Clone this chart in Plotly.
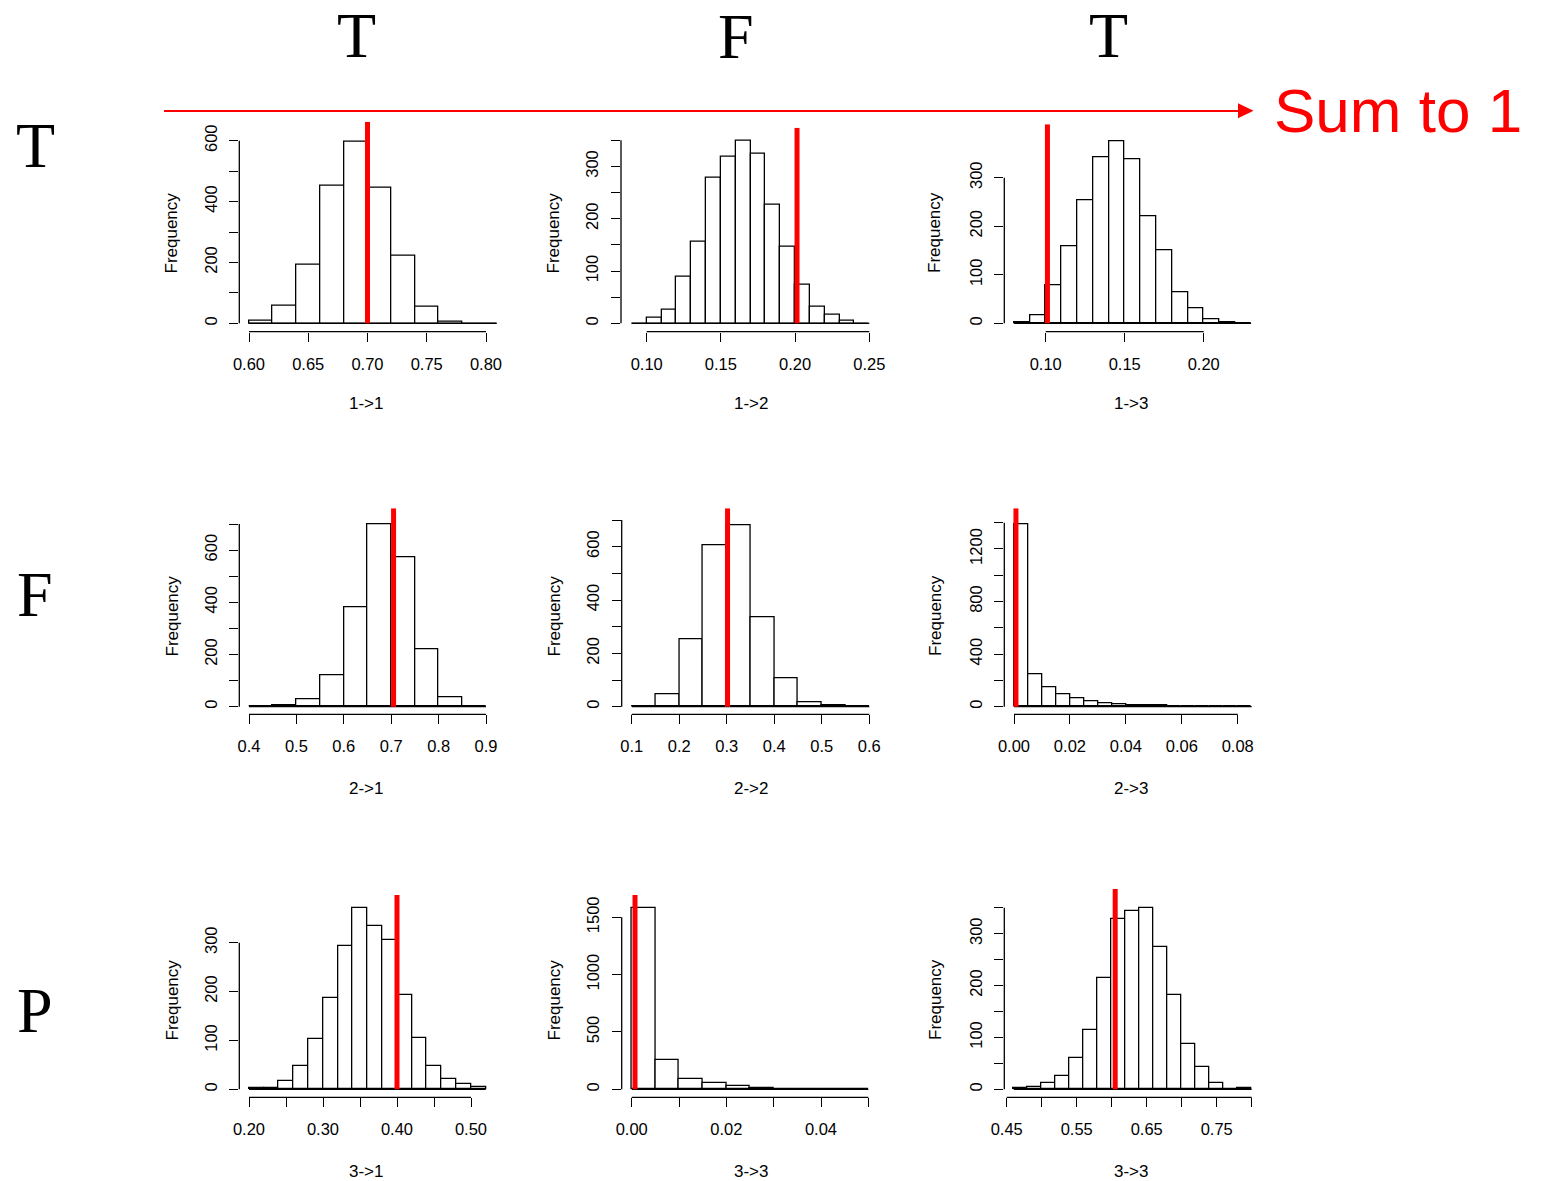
import plotly.graph_objects as go

W, H = 1541, 1181

# ---------------- data ----------------
titles = ["1->1", "1->2", "1->3", "2->1", "2->2", "2->3", "3->1", "3->3", "3->3"]

p1_start, p1_width = 0.60, 0.02
p1_counts = [9, 58, 194, 452, 597, 445, 223, 53, 4, 0, 0]
p2_start, p2_width = 0.09, 0.01
p2_counts = [0, 10, 26, 89, 156, 279, 319, 349, 325, 227, 146, 74, 31, 17, 5, 0]
p3_start, p3_width = 0.08, 0.01
p3_counts = [3, 16, 78, 159, 253, 343, 374, 338, 220, 151, 63, 31, 8, 3, 0]
p4_start, p4_width = 0.40, 0.05
p4_counts = [0, 5, 27, 119, 379, 697, 572, 221, 36, 0]
p5_start, p5_width = 0.10, 0.05
p5_counts = [0, 46, 251, 607, 682, 336, 105, 16, 5, 0]
p6_start, p6_width = 0.0, 0.005
p6_counts = [1385, 249, 145, 94, 61, 41, 23, 20, 13, 10, 10, 0, 0, 0, 0, 0, 0]
p7_start, p7_width = 0.20, 0.02
p7_counts = [2, 3, 16, 48, 103, 187, 294, 370, 335, 305, 194, 106, 48, 22, 10, 5]
p8_start, p8_width = 0.0, 0.005
p8_counts = [1581, 259, 93, 55, 32, 9, 6, 5, 4, 0]
p9_start, p9_width = 0.46, 0.02
p9_counts = [2, 4, 12, 25, 61, 115, 215, 329, 344, 349, 274, 182, 87, 43, 12, 0, 2]

true_values = [0.70, 0.2013, 0.1011, 0.705, 0.3017, 0.0007, 0.40, 0.0007, 0.605]

p1_xticks = [0.60, 0.65, 0.70, 0.75, 0.80]
p1_xlabels = ["0.60", "0.65", "0.70", "0.75", "0.80"]
p1_yticks = [0, 100, 200, 300, 400, 500, 600]
p1_ylabels = ["0", "", "200", "", "400", "", "600"]

p2_xticks = [0.10, 0.15, 0.20, 0.25]
p2_xlabels = ["0.10", "0.15", "0.20", "0.25"]
p2_yticks = [0, 50, 100, 150, 200, 250, 300, 350]
p2_ylabels = ["0", "", "100", "", "200", "", "300", ""]

p3_xticks = [0.10, 0.15, 0.20]
p3_xlabels = ["0.10", "0.15", "0.20"]
p3_yticks = [0, 100, 200, 300]
p3_ylabels = ["0", "100", "200", "300"]

p4_xticks = [0.4, 0.5, 0.6, 0.7, 0.8, 0.9]
p4_xlabels = ["0.4", "0.5", "0.6", "0.7", "0.8", "0.9"]
p4_yticks = [0, 100, 200, 300, 400, 500, 600, 700]
p4_ylabels = ["0", "", "200", "", "400", "", "600", ""]

p5_xticks = [0.1, 0.2, 0.3, 0.4, 0.5, 0.6]
p5_xlabels = ["0.1", "0.2", "0.3", "0.4", "0.5", "0.6"]
p5_yticks = [0, 100, 200, 300, 400, 500, 600, 700]
p5_ylabels = ["0", "", "200", "", "400", "", "600", ""]

p6_xticks = [0.00, 0.02, 0.04, 0.06, 0.08]
p6_xlabels = ["0.00", "0.02", "0.04", "0.06", "0.08"]
p6_yticks = [0, 200, 400, 600, 800, 1000, 1200, 1400]
p6_ylabels = ["0", "", "400", "", "800", "", "1200", ""]

p7_xticks = [0.20, 0.25, 0.30, 0.35, 0.40, 0.45, 0.50]
p7_xlabels = ["0.20", "", "0.30", "", "0.40", "", "0.50"]
p7_yticks = [0, 100, 200, 300]
p7_ylabels = ["0", "100", "200", "300"]

p8_xticks = [0.00, 0.01, 0.02, 0.03, 0.04, 0.05]
p8_xlabels = ["0.00", "", "0.02", "", "0.04", ""]
p8_yticks = [0, 500, 1000, 1500]
p8_ylabels = ["0", "500", "1000", "1500"]

p9_xticks = [0.45, 0.50, 0.55, 0.60, 0.65, 0.70, 0.75, 0.80]
p9_xlabels = ["0.45", "", "0.55", "", "0.65", "", "0.75", ""]
p9_yticks = [0, 50, 100, 150, 200, 250, 300, 350]
p9_ylabels = ["0", "", "100", "", "200", "", "300", ""]

col_headers = ["T", "F", "T"]
row_headers = ["T", "F", "P"]
arrow_label = "Sum to 1"

panels = [
    (p1_start, p1_width, p1_counts, p1_xticks, p1_xlabels, p1_yticks, p1_ylabels),
    (p2_start, p2_width, p2_counts, p2_xticks, p2_xlabels, p2_yticks, p2_ylabels),
    (p3_start, p3_width, p3_counts, p3_xticks, p3_xlabels, p3_yticks, p3_ylabels),
    (p4_start, p4_width, p4_counts, p4_xticks, p4_xlabels, p4_yticks, p4_ylabels),
    (p5_start, p5_width, p5_counts, p5_xticks, p5_xlabels, p5_yticks, p5_ylabels),
    (p6_start, p6_width, p6_counts, p6_xticks, p6_xlabels, p6_yticks, p6_ylabels),
    (p7_start, p7_width, p7_counts, p7_xticks, p7_xlabels, p7_yticks, p7_ylabels),
    (p8_start, p8_width, p8_counts, p8_xticks, p8_xlabels, p8_yticks, p8_ylabels),
    (p9_start, p9_width, p9_counts, p9_xticks, p9_xlabels, p9_yticks, p9_ylabels),
]

# ---------------- layout (pixel geometry of each panel) ----------------
geom = [
    dict(L=239.3, R=496.6, T=121.7, B=331.7, xc=((0.60, 249.0), (0.80, 486.0)), yc=((0, 323.3), (600, 140.7))),
    dict(L=621.0, R=878.9, T=127.7, B=331.7, xc=((0.10, 646.7), (0.25, 869.3)), yc=((0, 323.3), (350, 140.3))),
    dict(L=1004.3, R=1260.6, T=124.3, B=331.7, xc=((0.10, 1045.7), (0.20, 1203.7)), yc=((0, 323.3), (300, 177.7))),
    dict(L=239.3, R=495.5, T=508.3, B=714.3, xc=((0.4, 249.0), (0.9, 486.0)), yc=((0, 706.7), (700, 524.0))),
    dict(L=621.7, R=878.8, T=508.3, B=714.3, xc=((0.1, 631.7), (0.6, 869.3)), yc=((0, 706.7), (700, 520.0))),
    dict(L=1004.3, R=1261.0, T=508.3, B=714.3, xc=((0.0, 1014.0), (0.08, 1237.7)), yc=((0, 706.7), (1400, 522.7))),
    dict(L=239.3, R=495.3, T=895.0, B=1097.3, xc=((0.20, 249.0), (0.50, 471.0)), yc=((0, 1089.3), (300, 942.7))),
    dict(L=621.7, R=877.8, T=895.0, B=1097.3, xc=((0.0, 631.7), (0.04, 821.0)), yc=((0, 1089.3), (1500, 917.3))),
    dict(L=1004.3, R=1261.2, T=889.0, B=1097.3, xc=((0.45, 1006.7), (0.75, 1216.7)), yc=((0, 1089.3), (300, 933.7))),
]
col_title_x = [366, 751, 1131]
row_title_y = [403.5, 788, 1171]
freq_x = [171.5, 553.5, 935]
freq_y = [233, 616, 1000]

FONT = "Liberation Sans, Arial, sans-serif"
TICK_SIZE = 16.5
LBL_SIZE = 17
LW = 1.3

fig = go.Figure()
layout = dict(
    width=W, height=H, autosize=False,
    margin=dict(l=0, r=0, t=0, b=0, pad=0, autoexpand=False),
    paper_bgcolor="white", plot_bgcolor="white",
    showlegend=False, bargap=0,
)
shapes = []
annotations = []

def px_x(p):
    return p / W

def px_y(p):
    return 1 - p / H

for i, (start, width, counts, xt, xl, yt, yl) in enumerate(panels):
    g = geom[i]
    k = i + 1
    xa = "x" if k == 1 else f"x{k}"
    ya = "y" if k == 1 else f"y{k}"
    xkey = "xaxis" if k == 1 else f"xaxis{k}"
    ykey = "yaxis" if k == 1 else f"yaxis{k}"

    (xv0, xp0), (xv1, xp1) = g["xc"]
    sx = (xp1 - xp0) / (xv1 - xv0)
    xlo = xv0 + (g["L"] - xp0) / sx
    xhi = xv0 + (g["R"] - xp0) / sx
    (yv0, yp0), (yv1, yp1) = g["yc"]
    sy = (yp0 - yp1) / (yv1 - yv0)
    ylo = yv0 - (g["B"] - yp0) / sy
    yhi = yv0 + (yp0 - g["T"]) / sy

    n = len(counts)
    edges = [start + j * width for j in range(n + 1)]
    centers = [(edges[j] + edges[j + 1]) / 2 for j in range(n)]

    fig.add_trace(go.Bar(
        x=centers, y=counts, width=[width] * n,
        marker=dict(color="white", line=dict(color="black", width=LW)),
        xaxis=xa, yaxis=ya, hoverinfo="skip",
    ))
    fig.add_trace(go.Scatter(
        x=[edges[0], edges[-1]], y=[0, 0], mode="lines",
        line=dict(color="black", width=LW), xaxis=xa, yaxis=ya, hoverinfo="skip",
    ))

    layout[xkey] = dict(
        domain=[px_x(g["L"]), px_x(g["R"])], range=[xlo, xhi], anchor=ya,
        automargin=False,
        tickmode="array", tickvals=xt, ticktext=xl,
        ticks="outside", ticklen=9, tickwidth=LW, tickcolor="black",
        showline=False, showgrid=False, zeroline=False,
        tickfont=dict(family=FONT, size=TICK_SIZE, color="black"),
        ticklabelstandoff=8,
    )
    layout[ykey] = dict(
        domain=[px_y(g["B"]), px_y(g["T"])], range=[ylo, yhi], anchor=xa,
        automargin=False,
        tickmode="array", tickvals=yt, ticktext=yl, tickangle=-90,
        ticks="outside", ticklen=9, tickwidth=LW, tickcolor="black",
        showline=False, showgrid=False, zeroline=False,
        tickfont=dict(family=FONT, size=TICK_SIZE, color="black"),
        ticklabelstandoff=6,
    )

    # R-style axis lines spanning first..last tick
    shapes.append(dict(type="line", xref=xa, yref=f"{ya} domain",
                       x0=xt[0], x1=xt[-1], y0=0, y1=0,
                       line=dict(color="black", width=LW)))
    shapes.append(dict(type="line", xref=f"{xa} domain", yref=ya,
                       x0=0, x1=0, y0=yt[0], y1=yt[-1],
                       line=dict(color="black", width=LW)))
    # red "true value" line
    shapes.append(dict(type="line", xref=xa, yref=ya,
                       x0=true_values[i], x1=true_values[i], y0=0, y1=yhi,
                       line=dict(color="#ff0000", width=5)))

    r, c = divmod(i, 3)
    annotations.append(dict(text=titles[i], xref="paper", yref="paper",
                            x=px_x(col_title_x[c]), y=px_y(row_title_y[r]),
                            xanchor="center", yanchor="middle", showarrow=False,
                            font=dict(family=FONT, size=LBL_SIZE, color="black")))
    annotations.append(dict(text="Frequency", xref="paper", yref="paper",
                            x=px_x(freq_x[c]), y=px_y(freq_y[r]), textangle=-90,
                            xanchor="center", yanchor="middle", showarrow=False,
                            font=dict(family=FONT, size=LBL_SIZE, color="black")))

# headers
SERIF = "Liberation Serif, Times New Roman, serif"
col_hdr_x = [356, 736, 1108]
col_hdr_y = [35, 37, 35]
for t, x, y in zip(col_headers, col_hdr_x, col_hdr_y):
    annotations.append(dict(text=t, xref="paper", yref="paper", x=px_x(x), y=px_y(y),
                            xanchor="center", yanchor="middle", showarrow=False,
                            font=dict(family=SERIF, size=64, color="black")))
row_hdr_x = [35.5, 35, 35]
row_hdr_y = [145, 594, 1010]
for t, x, y in zip(row_headers, row_hdr_x, row_hdr_y):
    annotations.append(dict(text=t, xref="paper", yref="paper", x=px_x(x), y=px_y(y),
                            xanchor="center", yanchor="middle", showarrow=False,
                            font=dict(family=SERIF, size=64, color="black")))

# red arrow and label
shapes.append(dict(type="line", xref="paper", yref="paper",
                   x0=px_x(164), x1=px_x(1240), y0=px_y(111), y1=px_y(111),
                   line=dict(color="#ff0000", width=2)))
shapes.append(dict(type="path", xref="paper", yref="paper",
                   path=f"M {px_x(1238)} {px_y(103.3)} L {px_x(1253.5)} {px_y(110.8)} L {px_x(1238)} {px_y(118.3)} Z",
                   fillcolor="#ff0000", line=dict(color="#ff0000", width=0)))
annotations.append(dict(text=arrow_label, xref="paper", yref="paper",
                        x=px_x(1397.5), y=px_y(111), xanchor="center", yanchor="middle",
                        showarrow=False, font=dict(family=FONT, size=62, color="#ff0000")))

layout["shapes"] = shapes
layout["annotations"] = annotations
fig.update_layout(**layout)
fig.write_html("out.html")
